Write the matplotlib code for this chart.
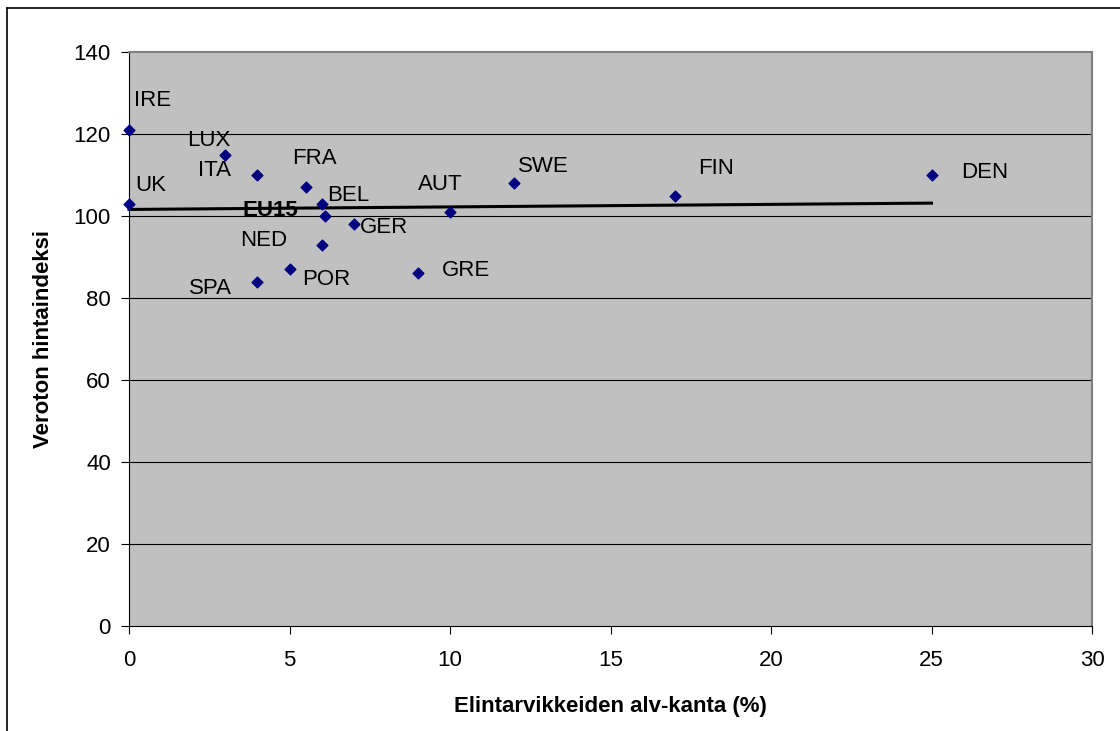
import numpy as np
import matplotlib
matplotlib.use("Agg")
import matplotlib.pyplot as plt
from matplotlib.lines import Line2D

plt.rcParams['font.family'] = ['Liberation Sans', 'DejaVu Sans']

# food VAT rate (%) and price index without tax
countries = ['IRE', 'UK', 'LUX', 'ITA', 'SPA', 'POR', 'FRA', 'BEL', 'NED',
             'GER', 'GRE', 'AUT', 'SWE', 'FIN', 'DEN']
vat = [0, 0, 3, 4, 4, 5, 5.5, 6, 6, 7, 9, 10, 12, 17, 25]
index = [121, 103, 115, 110, 84, 87, 107, 103, 93, 98, 86, 101, 108, 105, 110]
eu_vat = 6.1
eu_index = 100

# label offsets in pixels (dx, dy, horizontal alignment)
offsets = {
    'IRE': (5, 29, 'left'), 'UK': (6, 18, 'left'), 'LUX': (5, 14, 'right'),
    'ITA': (-26, 5, 'right'), 'SPA': (-25, -7, 'right'), 'POR': (13, -10, 'left'),
    'FRA': (-13, 29, 'left'), 'BEL': (6, 8, 'left'), 'NED': (-34, 4, 'right'),
    'GER': (6, -3, 'left'), 'GRE': (24, 3, 'left'), 'AUT': (-32, 27, 'left'),
    'SWE': (4, 17, 'left'), 'FIN': (23, 27, 'left'), 'DEN': (30, 3, 'left'),
}

fig = plt.figure(figsize=(11.2, 7.31), dpi=100)
ax = fig.add_axes([129 / 1120, 105 / 731, 963 / 1120, 574 / 731])
ax.set_facecolor('#C0C0C0')

ax.set_xlim(0, 30)
ax.set_ylim(0, 140)
ax.set_xticks(range(0, 31, 5))
ax.set_yticks(range(0, 141, 20))
for y in range(20, 140, 20):
    ax.axhline(y, color='black', lw=0.8, zorder=1)

for s in ['top', 'right']:
    ax.spines[s].set_color('#808080')
    ax.spines[s].set_linewidth(1.5)
for s in ['left', 'bottom']:
    ax.spines[s].set_color('black')
    ax.spines[s].set_linewidth(0.8)

ax.tick_params(direction='out', length=6, width=0.8, labelsize=16)
ax.tick_params(axis='x', pad=11)
ax.tick_params(axis='y', pad=7)

# linear trend over the countries
k, b = np.polyfit(vat, index, 1)
xs = np.array([0, max(vat)])
ax.plot(xs, k * xs + b, color='black', lw=2.2, zorder=2, clip_on=False)

ax.scatter(vat + [eu_vat], index + [eu_index], marker='D', s=30,
           color='#000080', zorder=3, clip_on=False)

for c, x, y in zip(countries, vat, index):
    dx, dy, ha = offsets[c]
    ax.annotate(c, (x, y), xytext=(dx, dy), textcoords='offset pixels',
                ha=ha, va='center', fontsize=16, zorder=4)
ax.annotate('EU15', (eu_vat, eu_index), xytext=(-27, 6), textcoords='offset pixels',
            ha='right', va='center', fontsize=16, fontweight='bold', zorder=4)

ax.set_xlabel('Elintarvikkeiden alv-kanta (%)', fontsize=16, fontweight='bold',
              labelpad=18)
ax.set_ylabel('Veroton hintaindeksi', fontsize=16, fontweight='bold', labelpad=14)

# chart frame
fig.add_artist(Line2D([7 / 1120, 1], [1 - 8 / 731, 1 - 8 / 731], color='black', lw=1.2))
fig.add_artist(Line2D([7 / 1120, 7 / 1120], [0, 1 - 8 / 731], color='black', lw=1.2))

fig.savefig('out.png', dpi=100)
